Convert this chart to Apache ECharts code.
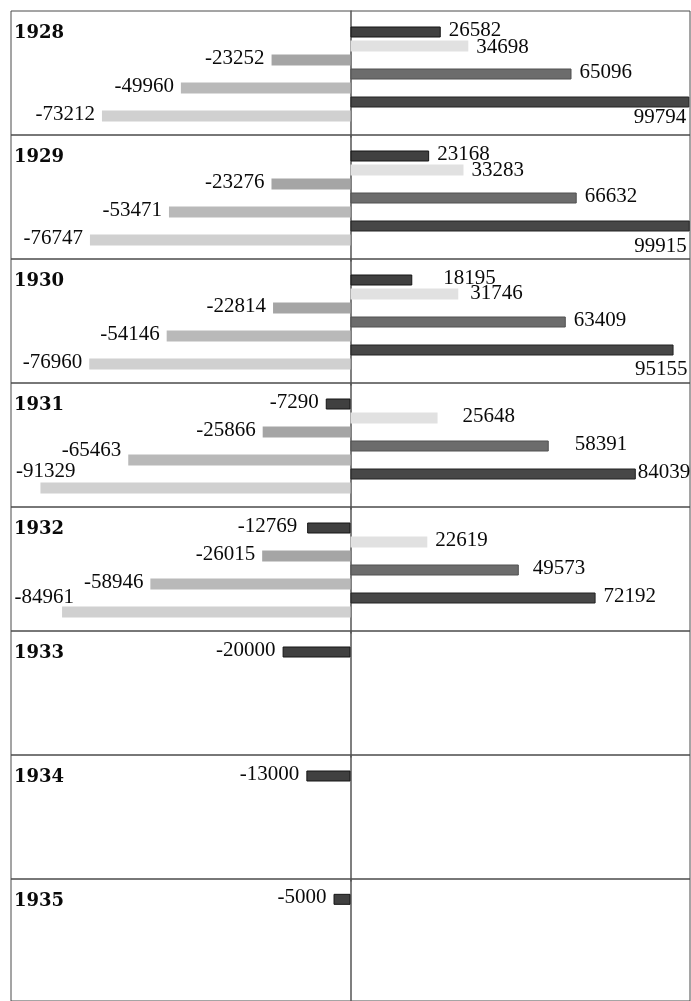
<!DOCTYPE html>
<html>
<head>
<meta charset="utf-8">
<script src="https://cdn.jsdelivr.net/npm/echarts@6/dist/echarts.min.js"></script>
<style>
html,body{margin:0;padding:0;background:#fff;}
#chart{width:691px;height:1001px;}
</style>
</head>
<body>
<div id="chart"></div>
<script>
// ---- data ----
const years = ['1928', '1929', '1930', '1931', '1932', '1933', '1934', '1935'];
const balance  = [26582, 23168, 18195, -7290, -12769, -20000, -13000, -5000];
const incomeA  = [34698, 33283, 31746, 25648, 22619, null, null, null];
const expenseA = [-23252, -23276, -22814, -25866, -26015, null, null, null];
const incomeB  = [65096, 66632, 63409, 58391, 49573, null, null, null];
const expenseB = [-49960, -53471, -54146, -65463, -58946, null, null, null];
const incomeTotal  = [99794, 99915, 95155, 84039, 72192, null, null, null];
const expenseTotal = [-73212, -76747, -76960, -91329, -84961, null, null, null];

// ---- layout / style ----
const SLOTS = 9;
const TOP = 11, ROW_H = 124, SLOT_H = 14, LEFT = 11, RIGHT = 1;
const metrics = [
  { key: 'balance',  vals: balance,      slot: 1, color: '#404040', border: '#151515' },
  { key: 'incA',     vals: incomeA,      slot: 2, color: '#e1e1e1', border: null },
  { key: 'expA',     vals: expenseA,     slot: 3, color: '#a5a5a5', border: null },
  { key: 'incB',     vals: incomeB,      slot: 4, color: '#6c6c6c', border: '#505050' },
  { key: 'expB',     vals: expenseB,     slot: 5, color: '#b9b9b9', border: null },
  { key: 'incTotal', vals: incomeTotal,  slot: 6, color: '#474747', border: '#222' },
  { key: 'expTotal', vals: expenseTotal, slot: 7, color: '#d0d0d0', border: null }
];
// label tweaks (style only)
const labelTweaks = {
  'incTotal-0': { position: 'insideRight', distance: 3, offset: [0, 17] },
  'incTotal-1': { position: 'insideRight', distance: 3, offset: [0, 22] },
  'incTotal-2': { position: 'insideRight', distance: 3, offset: [17, 21] },
  'incTotal-3': { distance: 2 },
  'balance-2':  { distance: 31 },
  'incA-0':     { offset: [0, 3] },
  'incA-1':     { offset: [0, 2] },
  'incA-2':     { distance: 12, offset: [0, 1] },
  'incA-3':     { distance: 25 },
  'incB-3':     { distance: 26 },
  'incB-4':     { distance: 14 },
  'expB-3':     { offset: [0, -8] },
  'expTotal-3': { offset: [42, -15] },
  'expTotal-4': { offset: [19, -13] },
  'balance-4':  { distance: 10 }
};

const FONT = '"Liberation Serif", "Times New Roman", serif';
const grids = [], xAxes = [], yAxes = [], series = [], titles = [];

function hiddenAxis(extra) {
  return Object.assign({ axisLine: { show: false }, axisTick: { show: false },
    axisLabel: { show: false }, splitLine: { show: false } }, extra);
}

years.forEach((yr, i) => {
  const top = TOP + ROW_H * i;
  // frame grid (cell border)
  grids.push({ left: LEFT, right: RIGHT, top: top, height: ROW_H, show: true,
    borderColor: '#4a4a4a', borderWidth: 1, backgroundColor: 'transparent' });
  // data grid (slots of 14px)
  grids.push({ left: LEFT, right: RIGHT, top: top, height: SLOT_H * SLOTS, show: false });
  const fi = 2 * i, di = 2 * i + 1;
  xAxes.push(hiddenAxis({ gridIndex: fi, type: 'value', min: -1, max: 1 }));
  yAxes.push(hiddenAxis({ gridIndex: fi, type: 'value', min: -1, max: 1 }));
  xAxes.push(hiddenAxis({ gridIndex: di, type: 'value', min: -100000, max: 100000 }));
  yAxes.push({ gridIndex: di, type: 'category', inverse: true,
    data: Array.from({ length: SLOTS }, (_, k) => 's' + k),
    axisLine: { show: true, onZero: true, lineStyle: { color: '#555', width: 1.5 } },
    axisTick: { show: false }, axisLabel: { show: false }, splitLine: { show: false } });
  titles.push({ text: yr, left: 14, top: top + 13, padding: 0,
    textStyle: { fontFamily: '"DejaVu Serif", serif', fontWeight: 'bold', fontSize: 18, color: '#0a0a0a' } });

  const data = Array.from({ length: SLOTS }, () => null);
  metrics.forEach(m => {
    const v = m.vals[i];
    if (v === null || v === undefined) return;
    const neg = v < 0;
    const tw = labelTweaks[m.key + '-' + i] || {};
    const label = Object.assign({
      show: true,
      position: neg ? 'left' : 'right',
      distance: neg ? 7 : 8,
      formatter: String(v),
      fontFamily: FONT, fontSize: 21, color: '#0a0a0a'
    }, tw);
    label.offset = tw.offset ? [tw.offset[0], tw.offset[1] - 2] : [0, -2];
    data[m.slot] = {
      value: v,
      itemStyle: { color: m.color, borderColor: m.border || m.color, borderWidth: m.border ? 1 : 0 },
      label: label
    };
  });
  series.push({
    type: 'bar', xAxisIndex: di, yAxisIndex: di, barWidth: 11,
    data: data, silent: true, animation: false
  });
});

const chart = echarts.init(document.getElementById('chart'), null, { renderer: 'canvas' });
chart.setOption({
  backgroundColor: '#fff',
  animation: false,
  title: titles,
  grid: grids,
  xAxis: xAxes,
  yAxis: yAxes,
  series: series
});
</script>
</body>
</html>
